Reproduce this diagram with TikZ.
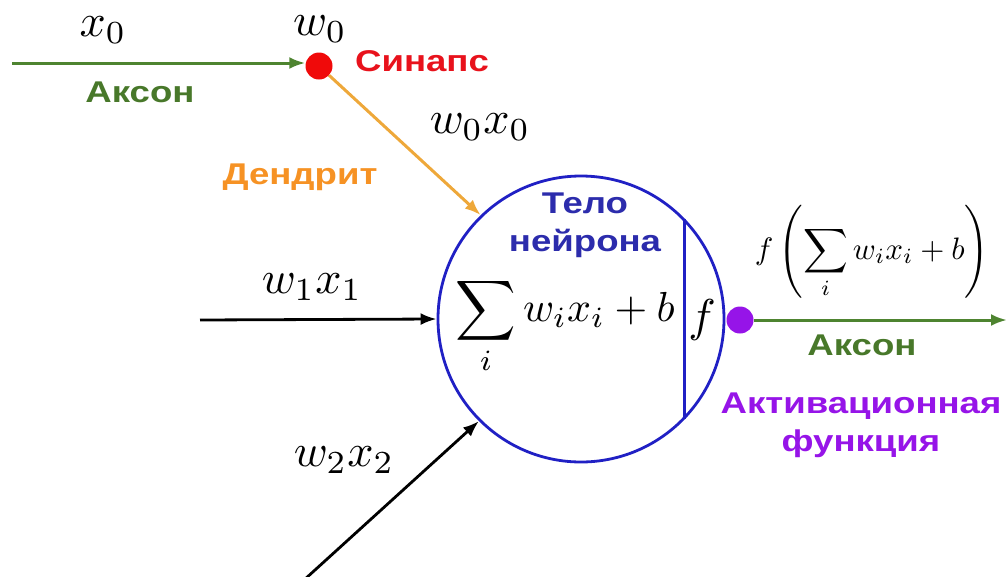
\documentclass[tikz,border=0pt]{standalone}
\usepackage{fontspec}
\usetikzlibrary{arrows.meta}
\newfontfamily\labfont[FakeStretch=1.22]{Liberation Sans}
\definecolor{axgreen}{RGB}{72,120,42}
\definecolor{axline}{RGB}{78,132,48}
\definecolor{synred}{RGB}{232,18,28}
\definecolor{dotred}{RGB}{240,10,10}
\definecolor{dendtext}{RGB}{246,146,36}
\definecolor{dendline}{RGB}{238,168,58}
\definecolor{bodyblue}{RGB}{32,32,196}
\definecolor{bodytext}{RGB}{44,44,172}
\definecolor{actpurple}{RGB}{150,20,232}
\newcommand{\mybigmath}[1]{\scalebox{4.6}{#1}}
\newcommand{\mysummath}[1]{\scalebox{4.2}{#1}}
\newcommand{\mysmallmath}[1]{\scalebox{3.1}{#1}}
\tikzset{
  lab/.style={font=\labfont\bfseries\fontsize{30}{38}\selectfont, inner sep=0pt, align=center},
  mathlab/.style={inner sep=0pt},
  dotnode/.style={circle, inner sep=0pt, minimum size=27pt},
  tipA/.style={-{Latex[length=16pt,width=12pt]}},
}
\begin{document}
\begin{tikzpicture}[x=1pt,y=-1pt]
\useasboundingbox (0,0) rectangle (1007,576);
% main nodes
\node[circle, draw=bodyblue, line width=2.8pt, minimum size=286pt, inner sep=0pt] (body) at (581,319) {};
\node[dotnode, fill=dotred] (syn) at (319,66) {};
\node[dotnode, fill=actpurple] (act) at (740,320) {};
% free ends
\coordinate (in0) at (12,63);
\coordinate (in1) at (200,320);
\coordinate (in2) at (304,580);
\coordinate (out) at (1007,320);
% connectors
\draw[tipA, axline, line width=3pt] (in0) -- (in0 -| syn.west);
\draw[tipA, dendline, line width=3pt] (syn) -- (body.134);
\draw[tipA, black, line width=2.8pt] (in1) -- (body.west);
\draw[tipA, black, line width=2.8pt] (in2) -- (body.225);
\draw[bodyblue, line width=2.8pt] (body.44.5) -- (body.-44.5);
\draw[tipA, axline, line width=3pt] (act) -- (out);
% text labels
\node[mathlab] (tx0) at (103,30) {\mybigmath{$x_0$}};
\node[mathlab] (tw0) at (320,29) {\mybigmath{$w_0$}};
\node[mathlab] (tw0x0) at (480,127) {\mybigmath{$w_0x_0$}};
\node[mathlab] (tw1x1) at (312,287) {\mybigmath{$w_1x_1$}};
\node[mathlab] (tw2x2) at (344,460) {\mybigmath{$w_2x_2$}};
\node[mathlab] (tsum) at (565,326) {\mysummath{$\displaystyle\sum_i w_ix_i+b$}};
\node[mathlab] (tf) at (702,320) {\mybigmath{$f$}};
\node[mathlab] (tout) at (872,252) {\mysmallmath{$\displaystyle f\left(\sum_i w_ix_i+b\right)$}};
\node[lab, text=axgreen] (tax1) at (140,92) {Аксон};
\node[lab, text=synred] (tsyn) at (422,61) {Синапс};
\node[lab, text=dendtext] (tdend) at (300,177) {Дендрит};
\node[lab, text=bodytext] (tbody) at (585,225) {Тело\\нейрона};
\node[lab, text=axgreen] (tax2) at (862,345) {Аксон};
\node[lab, text=actpurple] (tact) at (861,425) {Активационная\\функция};
\end{tikzpicture}
\end{document}
